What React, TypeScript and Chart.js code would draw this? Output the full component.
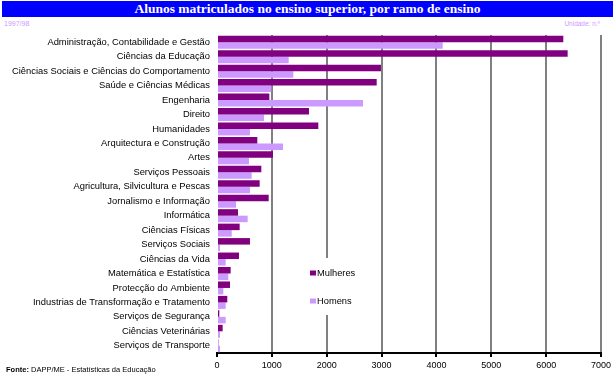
import React, { useEffect, useRef } from 'react';
import { Chart, registerables } from 'chart.js';

Chart.register(...registerables);

const categories = [
  'Administração, Contabilidade e Gestão',
  'Ciências da Educação',
  'Ciências Sociais e Ciências do Comportamento',
  'Saúde e Ciências Médicas',
  'Engenharia',
  'Direito',
  'Humanidades',
  'Arquitectura e Construção',
  'Artes',
  'Serviços Pessoais',
  'Agricultura, Silvicultura e Pescas',
  'Jornalismo e Informação',
  'Informática',
  'Ciências Físicas',
  'Serviços Sociais',
  'Ciências da Vida',
  'Matemática e Estatística',
  'Protecção do Ambiente',
  'Industrias de Transformação e Tratamento',
  'Serviços de Segurança',
  'Ciências Veterinárias',
  'Serviços de Transporte',
];

const mulheres = [6313, 6392, 2989, 2911, 954, 1677, 1847, 735, 1021, 808, 778, 942, 383, 413, 601, 401, 249, 237, 188, 42, 103, 24];
const homens = [4114, 1307, 1391, 990, 2661, 857, 601, 1203, 583, 632, 601, 346, 559, 268, 55, 158, 206, 115, 158, 158, 55, 55];

const seriesLabels = ['Mulheres', 'Homens'];
const xTicks = [0, 1000, 2000, 3000, 4000, 5000, 6000, 7000];

const title = 'Alunos matriculados no ensino superior, por ramo de ensino';
const yearLabel = '1997/98';
const unitLabel = 'Unidade: n.º';
const sourceBold = 'Fonte:';
const sourceText = ' DAPP/ME - Estatísticas da Educação';

const COLOR_M = '#800080';
const COLOR_H = '#cc99ff';

const legendPlugin = {
  id: 'customLegend',
  afterDatasetsDraw(chart: any) {
    const { ctx, chartArea } = chart;
    const x0 = chartArea.left + 81;
    const y0 = chartArea.top + 223;
    ctx.save();
    ctx.fillStyle = '#ffffff';
    ctx.fillRect(x0, y0, 68, 57);
    const items = [
      { label: seriesLabels[0], color: COLOR_M, dy: 15 },
      { label: seriesLabels[1], color: COLOR_H, dy: 43 },
    ];
    ctx.font = '9.3px Arial, "Liberation Sans", sans-serif';
    ctx.textBaseline = 'middle';
    ctx.textAlign = 'left';
    for (const it of items) {
      ctx.fillStyle = it.color;
      ctx.fillRect(x0 + 12, y0 + it.dy - 2.5, 6, 5);
      ctx.fillStyle = '#000';
      ctx.fillText(it.label, x0 + 19, y0 + it.dy);
    }
    ctx.restore();
  },
};

export default function App() {
  const canvasRef = useRef<HTMLCanvasElement | null>(null);

  useEffect(() => {
    document.body.style.margin = '0';
    const canvas = canvasRef.current;
    if (!canvas) return;
    const chart = new Chart(canvas, {
      type: 'bar',
      data: {
        labels: categories,
        datasets: [
          {
            label: seriesLabels[0],
            data: mulheres,
            backgroundColor: COLOR_M,
            barPercentage: 1,
            categoryPercentage: 0.9,
          },
          {
            label: seriesLabels[1],
            data: homens,
            backgroundColor: COLOR_H,
            barPercentage: 1,
            categoryPercentage: 0.9,
          },
        ],
      },
      options: {
        indexAxis: 'y',
        animation: false,
        responsive: false,
        maintainAspectRatio: false,
        devicePixelRatio: 1,
        layout: { padding: { top: 35, right: 15, left: 0, bottom: 0 } },
        plugins: {
          legend: { display: false },
          tooltip: { enabled: false },
        },
        scales: {
          x: {
            min: xTicks[0],
            max: xTicks[xTicks.length - 1],
            afterBuildTicks(scale: any) {
              scale.ticks = xTicks.map((v) => ({ value: v }));
            },
            afterFit(scale: any) {
              scale.height = 27;
            },
            grid: {
              color: (c: any) => (c.index === 0 ? 'rgba(0,0,0,0)' : '#808080'),
              lineWidth: 2,
              tickColor: '#000',
              tickLength: 4,
              drawOnChartArea: true,
            },
            border: { display: true, color: '#000', width: 2 },
            ticks: {
              color: '#000',
              font: { family: 'Arial, "Liberation Sans", sans-serif', size: 9 },
              padding: 3,
              maxRotation: 0,
              callback: (v: any) => String(v),
            },
          },
          y: {
            afterFit(scale: any) {
              scale.width = 217;
            },
            grid: { display: false, drawTicks: false },
            border: { display: false },
            ticks: {
              color: '#000',
              font: { family: 'Arial, "Liberation Sans", sans-serif', size: 9.4 },
              padding: 7,
              autoSkip: false,
            },
          },
        },
      },
      plugins: [legendPlugin],
    } as any);
    return () => chart.destroy();
  }, []);

  return (
    <div style={{ position: 'relative', width: 616, height: 380, background: '#fff', overflow: 'hidden' }}>
      <div
        style={{
          position: 'absolute',
          left: 2,
          top: 1,
          width: 611,
          height: 16,
          background: '#0000ff',
          color: '#fff',
          fontFamily: '"Liberation Serif", "Times New Roman", serif',
          fontWeight: 'bold',
          fontSize: 13.5,
          lineHeight: '16px',
          textAlign: 'center',
          whiteSpace: 'nowrap',
        }}
      >
        {title}
      </div>
      <div
        style={{
          position: 'absolute',
          left: 4,
          top: 20,
          fontFamily: 'Arial, "Liberation Sans", sans-serif',
          fontSize: 7,
          lineHeight: '8px',
          color: '#cc99ff',
        }}
      >
        {yearLabel}
      </div>
      <div
        style={{
          position: 'absolute',
          right: 16,
          top: 20,
          fontFamily: 'Arial, "Liberation Sans", sans-serif',
          fontSize: 6.5,
          lineHeight: '8px',
          color: '#cc99ff',
          whiteSpace: 'nowrap',
        }}
      >
        {unitLabel}
      </div>
      <canvas
        ref={canvasRef}
        width={616}
        height={380}
        style={{ position: 'absolute', left: 0, top: 0, width: 616, height: 380 }}
      />
      <div
        style={{
          position: 'absolute',
          left: 6,
          top: 366,
          fontFamily: 'Arial, "Liberation Sans", sans-serif',
          fontSize: 7.5,
          lineHeight: '8px',
          color: '#000',
          whiteSpace: 'nowrap',
        }}
      >
        <b>{sourceBold}</b>
        {sourceText}
      </div>
    </div>
  );
}
